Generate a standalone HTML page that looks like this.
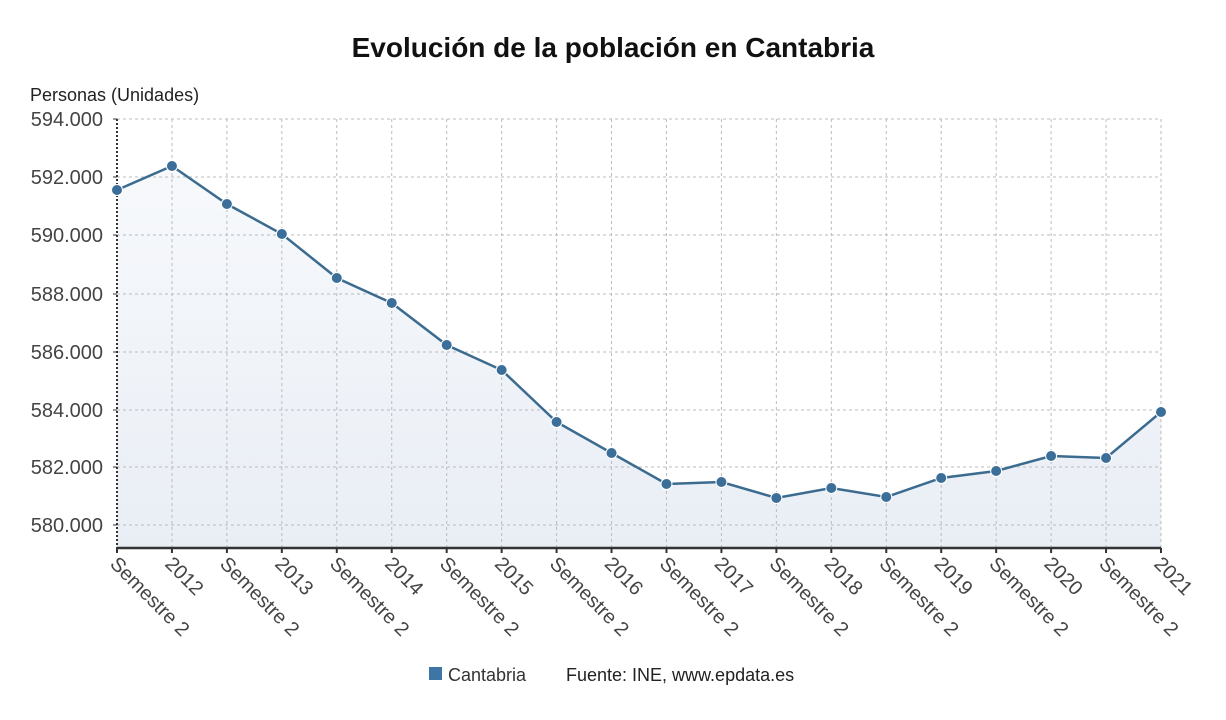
<!DOCTYPE html>
<html><head><meta charset="utf-8"><style>
body{margin:0;background:#fff;}
svg{display:block;font-family:"Liberation Sans","DejaVu Sans",sans-serif;}
</style></head><body>
<svg width="1226" height="720" viewBox="0 0 1226 720" xmlns="http://www.w3.org/2000/svg">
<defs><linearGradient id="g" x1="0" y1="0" x2="0" y2="1"><stop offset="0" stop-color="#f7f9fc"/><stop offset="1" stop-color="#e9eef5"/></linearGradient></defs>
<text x="613" y="57" text-anchor="middle" font-size="28" font-weight="bold" fill="#111">Evolución de la población en Cantabria</text>
<text x="30" y="101" font-size="18" fill="#222">Personas (Unidades)</text>
<g id="area"></g>
<g stroke="#bbb" stroke-dasharray="3,3" stroke-width="1" fill="none" id="grid"></g>
<g font-size="20" fill="#444" text-anchor="end" id="yl"></g>
<line x1="117" y1="119" x2="117" y2="548" stroke="#333" stroke-width="2" stroke-dasharray="2,2"/>
<line x1="117" y1="548" x2="1161" y2="548" stroke="#333" stroke-width="2.5"/>
<g id="xl" font-size="20" fill="#444"></g>
<g id="ser"></g>
<rect x="429" y="667" width="13" height="13" fill="#3d76a5"/>
<text x="448" y="681" font-size="18" fill="#333">Cantabria</text>
<text x="566" y="681" font-size="18" fill="#222">Fuente: INE, www.epdata.es</text>
</svg>
<script>
var ys=[190,166,204,234,278,303,345,370,422,453,484,482,498,488,497,478,471,456,458,412];
var NS="http://www.w3.org/2000/svg";
function el(t,a,p){var e=document.createElementNS(NS,t);for(var k in a)e.setAttribute(k,a[k]);document.getElementById(p).appendChild(e);return e;}
var xs=ys.map(function(_,i){return 117+i*(1044/19);});
var pts=xs.map(function(x,i){return x+","+ys[i];}).join(" ");
el("polygon",{points:"117,548 "+pts+" 1161,548",fill:"url(#g)"},"area");
var gy=[119,177,235,294,352,410,467,525],lab=["594.000","592.000","590.000","588.000","586.000","584.000","582.000","580.000"];
gy.forEach(function(y,i){el("line",{x1:117,y1:y,x2:1161,y2:y},"grid");el("line",{x1:113,y1:y,x2:117,y2:y,stroke:"#333","stroke-dasharray":"none"},"grid");var t=el("text",{x:103,y:y+7},"yl");t.textContent=lab[i];});
xs.forEach(function(x,i){if(i>0)el("line",{x1:x,y1:119,x2:x,y2:548},"grid");el("line",{x1:x,y1:548,x2:x,y2:553,stroke:"#333","stroke-dasharray":"none","stroke-width":2},"grid");
var tx=x-8,ty=565;var t=el("text",{x:tx,y:ty,transform:"rotate(45 "+tx+" "+ty+")"},"xl");t.textContent=(i%2==0)?"Semestre 2":String(2012+(i-1)/2);});
el("polyline",{points:pts,fill:"none",stroke:"#3b6b8f","stroke-width":2.5},"ser");
xs.forEach(function(x,i){el("circle",{cx:x,cy:ys[i],r:5.5,fill:"#3b6e98",stroke:"#fff","stroke-width":1},"ser");});
</script>
</body></html>
